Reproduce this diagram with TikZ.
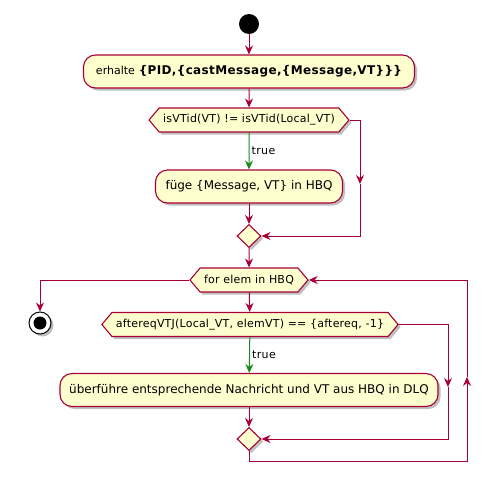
\documentclass[tikz,border=0pt]{standalone}
\usepackage{fontspec}
\setmainfont{DejaVu Sans}
\usetikzlibrary{arrows.meta, positioning, calc, shapes.geometric, shapes.symbols, shadows}

\definecolor{umlred}{HTML}{A80036}
\definecolor{umlfill}{HTML}{FEFECE}
\definecolor{umlgreen}{HTML}{1A8A1A}

\tikzset{
    umlshadow/.style={drop shadow={shadow xshift=2.5pt, shadow yshift=-2.5pt, opacity=0.25, fill=black}},
    action/.style={draw=umlred, fill=umlfill, line width=1.1pt, rounded corners=12pt,
        minimum height=33pt, inner xsep=8pt, font=\fontsize{12}{14}\selectfont, umlshadow},
    test/.style={shape=signal, signal to=east and west, signal pointer angle=100,
        draw=umlred, fill=umlfill, line width=1.1pt, minimum height=24pt, inner xsep=4pt,
        font=\fontsize{11}{13}\selectfont\addfontfeature{LetterSpace=2}, umlshadow},
    merge/.style={diamond, draw=umlred, fill=umlfill, line width=1.1pt,
        minimum width=24pt, minimum height=23pt, inner sep=0pt, umlshadow},
    startnode/.style={circle, fill=black, minimum size=20pt, inner sep=0pt},
    stopnode/.style={circle, draw=black, fill=white, line width=1pt, minimum size=22pt, inner sep=0pt,
        umlshadow, path picture={\fill[black] (path picture bounding box.center) circle (6.5pt);}},
    flow/.style={draw=umlred, line width=1pt, -{Stealth[length=9pt, width=8pt, inset=3pt]}},
    yes/.style={flow, draw=umlgreen},
    guard/.style={right, inner sep=2pt, font=\fontsize{11}{13}\selectfont\addfontfeature{LetterSpace=4}},
}

\begin{document}
\begin{tikzpicture}[x=1pt, y=-1pt]
    \useasboundingbox (0,0) rectangle (490,485);

    % oberer Teil: empfangen und pruefen
    \node[startnode] (start) at (249,24) {};
    \node[action, minimum width=331pt] (recv) at (249,71.5)
        {{\fontsize{11}{13}\selectfont erhalte} {\bfseries\addfontfeature{LetterSpace=3}\{PID,\{castMessage,\{Message,VT\}\}\}}};
    \node[test, minimum width=194pt] (ifvt) at (249,120) {isVTid(VT) != isVTid(Local\_VT)};
    \node[action, minimum width=187pt] (ins) at (249,186.5) {füge \{Message, VT\} in HBQ};
    \node[merge] (mrga) at (249,236) {};

    % Schleife ueber die HBQ
    \node[test, minimum width=115pt] (loop) at (249,280) {for elem in HBQ};
    \node[stopnode] (stop) at (40,323) {};
    \node[test, minimum width=294pt] (ifaft) at (250,324.5) {aftereqVTJ(Local\_VT, elemVT) == \{aftereq, -1\}};
    \node[action, minimum width=378pt] (move) at (249,390) {überführe entsprechende Nachricht und VT aus HBQ in DLQ};
    \node[merge] (mrgb) at (249,439) {};

    \coordinate (skipa) at (360,184);
    \coordinate (skipb) at (448,387);
    \coordinate (backb) at (467,377);

    \draw[flow] (start) -- (recv);
    \draw[flow] (recv) -- (ifvt);
    \draw[yes] (ifvt) -- node[guard] {true} (ins);
    \draw[flow] (ifvt.east) -| (skipa);
    \draw[flow] (skipa) |- (mrga.east);
    \draw[flow] (ins) -- (mrga);
    \draw[flow] (mrga) -- (loop);

    \draw[flow] (loop.west) -| (stop);
    \draw[flow] (loop) -- (ifaft);
    \draw[yes] (ifaft) -- node[guard] {true} (move);
    \draw[flow] (ifaft.east) -| (skipb);
    \draw[flow] (skipb) |- (mrgb.east);
    \draw[flow] (move) -- (mrgb);
    \draw[flow] (mrgb.south) -- ++(0,10) -| (backb);
    \draw[flow] (backb) |- (loop.east);
\end{tikzpicture}
\end{document}
